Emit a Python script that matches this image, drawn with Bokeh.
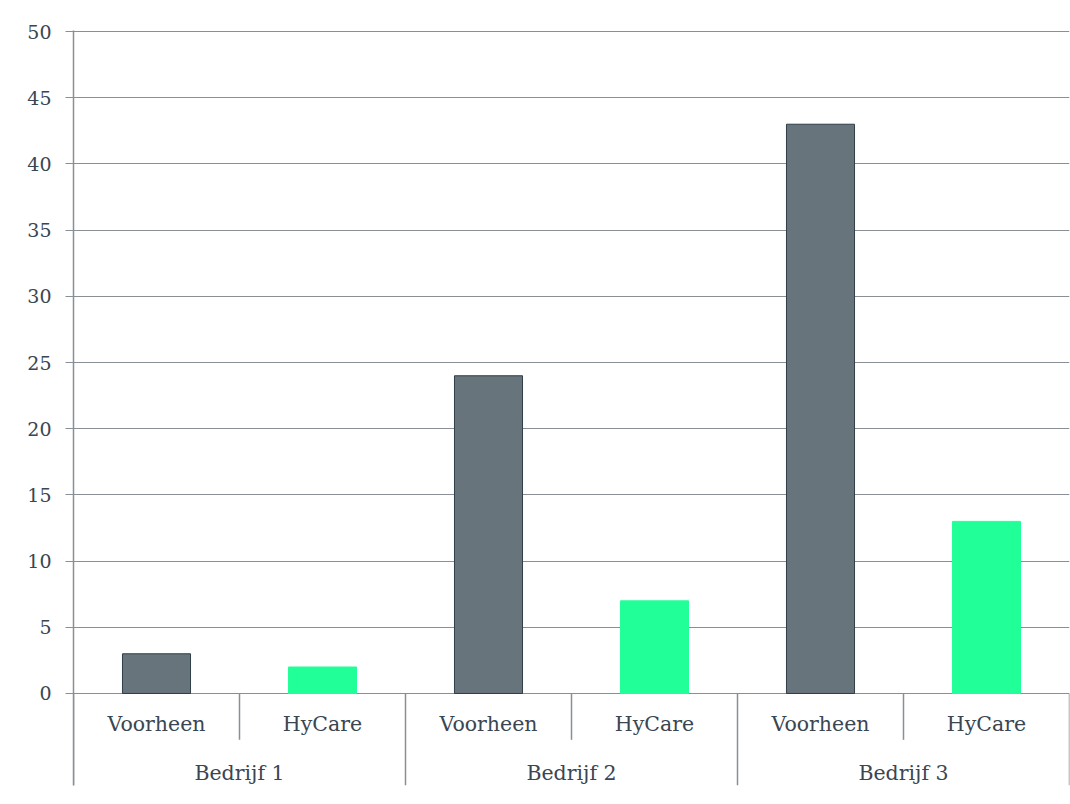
from bokeh.plotting import figure
from bokeh.models import FactorRange, FixedTicker, ColumnDataSource
from bokeh.core.properties import value
from bokeh.embed import file_html
from bokeh.resources import INLINE

# data
bedrijven = ["Bedrijf 1", "Bedrijf 2", "Bedrijf 3"]
series = ["Voorheen", "HyCare"]
voorheen = [3, 24, 43]
hycare = [2, 7, 13]
y_ticks = [0, 5, 10, 15, 20, 25, 30, 35, 40, 45, 50]

grey = "#67747c"
green = "#21ff99"
line_grey = "#898f95"
text_col = "#3a4651"
font = "DejaVu Serif"

factors = [(b, s) for b in bedrijven for s in series]
counts = []
for v, h in zip(voorheen, hycare):
    counts += [v, h]
colors = [grey, green] * len(bedrijven)
outlines = ["#2f3e48", green] * len(bedrijven)

p = figure(x_range=FactorRange(*factors, group_padding=0, factor_padding=0, range_padding=0),
           y_range=(-6.95, 50.08), width=1070, height=788,
           output_backend="svg", toolbar_location=None, x_axis_location=None,
           min_border_left=73, min_border_right=1, min_border_top=30, min_border_bottom=3)
p.outline_line_color = None
p.xgrid.visible = False

src = ColumnDataSource(dict(x=factors, top=counts, color=colors, outline=outlines))
p.vbar(x="x", top="top", width=0.41, source=src, fill_color="color", line_color="outline", line_width=1)

# y axis
p.yaxis.ticker = FixedTicker(ticks=y_ticks)
p.yaxis.axis_line_color = line_grey
p.yaxis.axis_line_width = 1.5
p.yaxis.major_tick_line_color = line_grey
p.yaxis.major_tick_out = 8
p.yaxis.major_tick_in = 0
p.yaxis.minor_tick_line_color = None
p.yaxis.major_label_text_font = font
p.yaxis.major_label_text_font_size = "19px"
p.yaxis.major_label_text_color = text_col
p.yaxis.major_label_standoff = 14
p.ygrid.ticker = FixedTicker(ticks=y_ticks)
p.ygrid.grid_line_color = line_grey
p.ygrid.grid_line_width = 1.2

# category separators (synthetic coordinates of factor boundaries)
n = len(factors)
sub_x = [i for i in range(1, n) if i % len(series) != 0]
grp_x = [i for i in range(0, n + 1) if i % len(series) == 0]
p.segment(x0=sub_x, x1=sub_x, y0=[0] * len(sub_x), y1=[-3.5] * len(sub_x), line_color=line_grey, line_width=1.5)
p.segment(x0=grp_x, x1=grp_x, y0=[0] * len(grp_x), y1=[-6.95] * len(grp_x), line_color=line_grey, line_width=1.5)

# category labels
p.text(x=factors, y=[-2.27] * n, text=[f[1] for f in factors], text_font=value(font),
       text_font_size="20.5px", text_color=text_col, text_align="center", text_baseline="middle")
p.text(x=bedrijven, y=[-6.0] * len(bedrijven), text=bedrijven, text_font=value(font),
       text_font_size="20.5px", text_color=text_col, text_align="center", text_baseline="middle")

open("out.html", "w").write(file_html(p, INLINE))
